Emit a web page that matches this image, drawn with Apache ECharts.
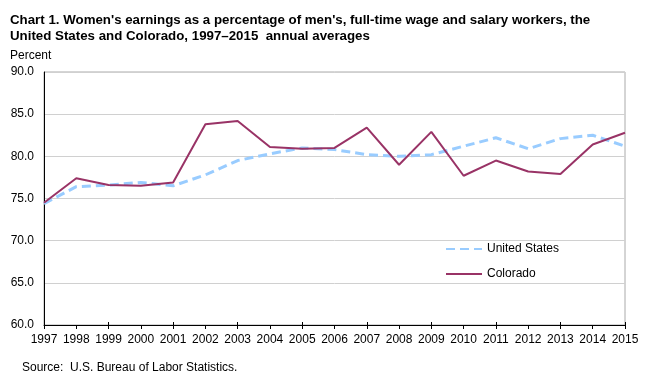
<!DOCTYPE html>
<html>
<head>
<meta charset="utf-8">
<script src="https://cdn.jsdelivr.net/npm/echarts@6/dist/echarts.min.js"></script>
<style>html,body{margin:0;padding:0;background:#fff;}#c{width:654px;height:382px;}</style>
</head>
<body>
<div id="c"></div>
<script>
const years = ['1997','1998','1999','2000','2001','2002','2003','2004','2005','2006','2007','2008','2009','2010','2011','2012','2013','2014','2015'];
const unitedStates = [74.4,76.4,76.6,76.9,76.5,77.8,79.5,80.3,81.0,80.8,80.2,80.0,80.2,81.2,82.2,80.9,82.1,82.5,81.2];
const colorado = [74.5,77.4,76.6,76.5,76.9,83.8,84.2,81.1,80.9,81.0,83.4,79.0,82.9,77.7,79.5,78.2,77.9,81.4,82.8];
const yMin = 60, yMax = 90, yStep = 5;

const font = 'Arial, "Liberation Sans", sans-serif';
const chart = echarts.init(document.getElementById('c'), null, {renderer: 'canvas'});
chart.setOption({
  animation: false,
  textStyle: {fontFamily: font, color: '#000'},
  title: [
    {text: "Chart 1. Women's earnings as a percentage of men's, full-time wage and salary workers, the\nUnited States and Colorado, 1997\u20132015  annual averages",
     left: 10, top: 12, padding: 0, textStyle: {fontFamily: font, fontSize: 13.3, fontWeight: 'bold', color: '#000', lineHeight: 16}},
    {text: 'Percent', left: 10, top: 50, padding: 0, textStyle: {fontFamily: font, fontSize: 12, fontWeight: 'normal', color: '#000'}},
    {text: 'Source:  U.S. Bureau of Labor Statistics.', left: 22, top: 362, padding: 0, textStyle: {fontFamily: font, fontSize: 12, fontWeight: 'normal', color: '#000'}}
  ],
  grid: {left: 44, right: 29, top: 72, bottom: 57, show: true, borderColor: '#aaaaaa', borderWidth: 1},
  legend: {
    orient: 'vertical', left: 440, top: 238, itemWidth: 36, itemHeight: 12, itemGap: 13,
    textStyle: {fontFamily: font, fontSize: 12, color: '#000'},
    data: [
      {name: 'United States', itemStyle: {color: 'transparent', borderWidth: 0, opacity: 0}},
      {name: 'Colorado', itemStyle: {color: 'transparent', borderWidth: 0, opacity: 0}}
    ]
  },
  xAxis: [{
    type: 'category', data: years, boundaryGap: false,
    axisLine: {lineStyle: {color: '#000', width: 1}},
    axisTick: {show: true, length: 4, inside: false, lineStyle: {color: '#000'}},
    axisLabel: {fontFamily: font, fontSize: 12, color: '#000', margin: 9, interval: 0}
  }, {
    type: 'category', data: years, boundaryGap: false, position: 'bottom',
    axisLine: {show: false},
    axisTick: {show: true, length: 3, inside: true, lineStyle: {color: '#000'}},
    axisLabel: {show: false}
  }],
  yAxis: {
    type: 'value', min: yMin, max: yMax, interval: yStep,
    axisLine: {show: true, lineStyle: {color: '#000', width: 1}},
    axisTick: {show: false},
    splitLine: {lineStyle: {color: '#d0d0d0', width: 1}},
    axisLabel: {fontFamily: font, fontSize: 12, color: '#000', margin: 10, formatter: v => v.toFixed(1)}
  },
  series: [
    {name: 'United States', type: 'line', data: unitedStates, showSymbol: false, symbol: 'none',
     lineStyle: {color: '#99ccff', width: 3, type: [9, 5]}, itemStyle: {color: '#99ccff'}, z: 2},
    {name: 'Colorado', type: 'line', data: colorado, showSymbol: false, symbol: 'none',
     lineStyle: {color: '#993366', width: 2}, itemStyle: {color: '#993366'}, z: 3}
  ]
});
</script>
</body>
</html>
